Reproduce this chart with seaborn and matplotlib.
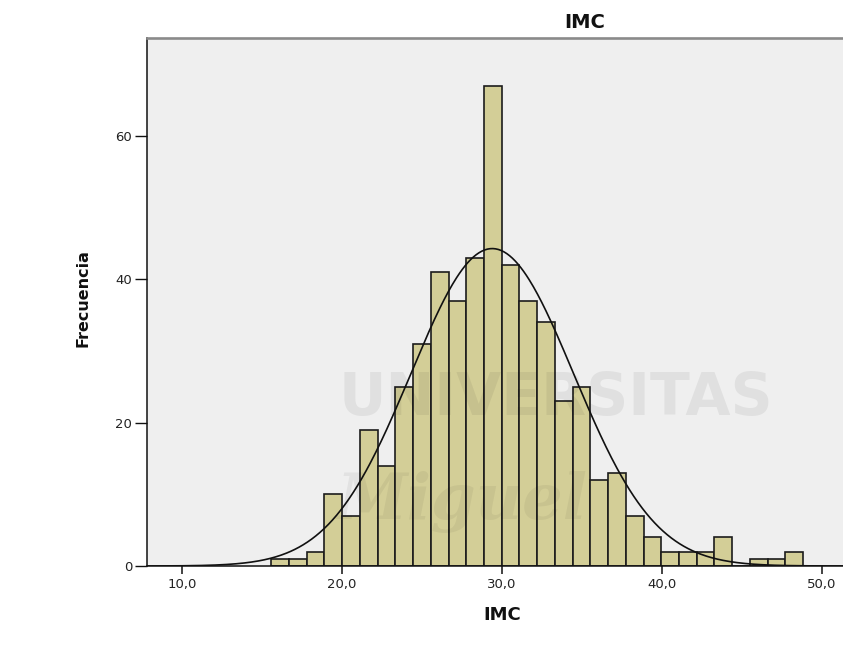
import numpy as np
import pandas as pd
import seaborn as sns
import matplotlib.pyplot as plt

# ---- data ----
bin_start = 15.58
bin_width = 1.108
counts = [1, 1, 2, 10, 7, 19, 14, 25, 31, 41, 37, 43, 67, 42, 37,
          34, 23, 25, 12, 13, 7, 4, 2, 2, 2, 4, 0, 1, 1, 2]
normal_mean = 29.39
normal_sd = 5.08
x_ticks = [10, 20, 30, 40, 50]
x_tick_labels = ["10,0", "20,0", "30,0", "40,0", "50,0"]
y_ticks = [0, 20, 40, 60]
y_tick_labels = ["0", "20", "40", "60"]
title_text = "IMC"
x_label = "IMC"
y_label = "Frecuencia"

# ---- derived table ----
edges = (bin_start + bin_width * np.arange(len(counts) + 1)).tolist()
centers = [e + bin_width / 2 for e in edges[:-1]]
df = pd.DataFrame({"IMC": centers, "n": counts})
N = sum(counts)

sns.set_theme(style="white")
plt.rcParams["font.family"] = ["DejaVu Sans"]

W, H = 843, 650
fig = plt.figure(figsize=(W / 100, H / 100), dpi=100)
fig.patch.set_facecolor("white")
ax_left, ax_right, ax_top, ax_bottom = 147, 843, 38, 566
ax = fig.add_axes([ax_left / W, (H - ax_bottom) / H,
                   (ax_right - ax_left) / W, (ax_bottom - ax_top) / H])
ax.set_facecolor("#efefef")

sns.histplot(data=df, x="IMC", weights="n", bins=edges, stat="count",
             color="#d3ce97", edgecolor="#1c1c1c", linewidth=1.2,
             alpha=1.0, ax=ax, zorder=2)

xmin = 10 + (ax_left - 182) / 16
xmax = 10 + (ax_right - 182) / 16
xs = np.linspace(xmin, xmax, 500)
ys = N * bin_width * np.exp(-0.5 * ((xs - normal_mean) / normal_sd) ** 2) / (normal_sd * np.sqrt(2 * np.pi))
sns.lineplot(x=xs, y=ys, color="#111111", linewidth=1.2, ax=ax, zorder=3)

ax.set_xlim(xmin, xmax)
ax.set_ylim(0, (ax_bottom - ax_top) / 7.167)

ax.set_xticks(x_ticks)
ax.set_xticklabels(x_tick_labels)
ax.set_yticks(y_ticks)
ax.set_yticklabels(y_tick_labels)
ax.tick_params(axis="x", direction="out", length=5.8, width=1.1, color="#111111",
               pad=3, labelsize=9.5, labelcolor="#222222", bottom=True)
ax.tick_params(axis="y", direction="out", length=8.6, width=1.0, color="#111111",
               pad=2, labelsize=9.5, labelcolor="#222222", left=True)

for s in ["left", "bottom"]:
    ax.spines[s].set_color("#111111")
    ax.spines[s].set_linewidth(1.1)
ax.spines["right"].set_visible(False)
ax.spines["top"].set_color("#8a8a8a")
ax.spines["top"].set_linewidth(1.9)

ax.set_xlabel(x_label, fontsize=13, fontweight="bold", color="#111111")
ax.xaxis.set_label_coords((502 - ax_left) / (ax_right - ax_left),
                          -(615 - ax_bottom) / (ax_bottom - ax_top))
ax.xaxis.label.set_va("center")
ax.set_ylabel(y_label, fontsize=11.5, fontweight="bold", color="#111111")
ax.yaxis.set_label_coords((83 - ax_left) / (ax_right - ax_left),
                          (ax_bottom - 298) / (ax_bottom - ax_top))
ax.yaxis.label.set_va("center")

fig.text(585 / W, 1 - 22 / H, title_text, ha="center", va="center",
         fontsize=14, fontweight="bold", color="#111111")

# faint watermark of the source image
fig.text(556 / W, 1 - 398 / H, "UNIVERSITAS", ha="center", va="center",
         fontsize=42, fontweight="bold", color="black", alpha=0.06, zorder=10)
fig.text(462 / W, 1 - 502 / H, "Miguel", ha="center", va="center",
         fontsize=46, fontweight="bold", style="italic", family="DejaVu Serif",
         color="black", alpha=0.05, zorder=10)

fig.savefig("out.png", dpi=100, facecolor="white")
